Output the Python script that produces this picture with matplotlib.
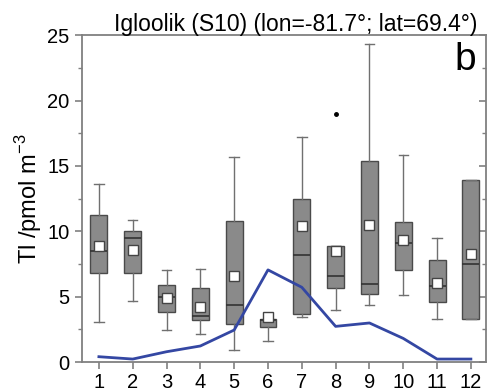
import matplotlib
matplotlib.use("Agg")
import matplotlib.pyplot as plt
from matplotlib.ticker import MultipleLocator
from matplotlib.lines import TICKLEFT

plt.rcParams['font.family'] = ['Liberation Sans', 'DejaVu Sans']

months = [1, 2, 3, 4, 5, 6, 7, 8, 9, 10, 11, 12]
# box statistics per month (pmol m-3)
q1 = [6.85, 6.85, 3.83, 3.25, 2.94, 2.70, 3.71, 5.65, 5.19, 7.06, 4.63, 3.27]
med = [8.50, 9.48, 5.00, 3.53, 4.37, 3.20, 8.18, 6.60, 5.96, 9.10, 5.78, 7.49]
q3 = [11.25, 10.05, 5.93, 5.65, 10.76, 3.30, 12.50, 8.88, 15.36, 10.68, 7.77, 13.96]
whislo = [3.07, 4.68, 2.43, 2.12, 0.92, 1.63, 3.43, 4.00, 4.35, 5.11, 3.27, 3.27]
whishi = [13.60, 10.86, 7.03, 7.08, 15.69, 3.30, 17.18, 8.88, 24.36, 15.82, 9.46, 13.96]
means = [8.85, 8.54, 4.88, 4.19, 6.62, 3.48, 10.38, 8.46, 10.45, 9.36, 6.08, 8.26]
outliers = {8: [18.94]}
# monthly curve
line_vals = [0.41, 0.23, 0.79, 1.23, 2.45, 7.05, 5.72, 2.73, 2.99, 1.81, 0.23, 0.23]
xtick_labels = [str(m) for m in months]

title = "Igloolik (S10) (lon=-81.7°; lat=69.4°)"
ylabel = r"Tl /pmol m$^{\mathregular{-3}}$"

fig = plt.figure(figsize=(4.91, 3.91), dpi=100)
ax = fig.add_axes([0.167, 0.074, 0.823, 0.836])

stats = []
for i, m in enumerate(months):
    stats.append(dict(q1=q1[i], med=med[i], q3=q3[i], whislo=whislo[i],
                      whishi=whishi[i], mean=means[i],
                      fliers=outliers.get(m, [])))

ax.bxp(stats, positions=months, widths=0.5, capwidths=0.28,
       showmeans=True, showfliers=True, patch_artist=True,
       boxprops=dict(facecolor='#8a8a8a', edgecolor='#4a4a4a', linewidth=1.0),
       medianprops=dict(color='#333333', linewidth=1.2),
       whiskerprops=dict(color='#707070', linewidth=1.0),
       capprops=dict(color='#707070', linewidth=1.0),
       meanprops=dict(marker='s', markerfacecolor='white',
                      markeredgecolor='#444444', markersize=7,
                      markeredgewidth=1.0),
       flierprops=dict(marker='o', markerfacecolor='black',
                       markeredgecolor='black', markersize=2.5))

ax.plot(months, line_vals, color='#3447a3', linewidth=2.0, zorder=5)

ax.set_xlim(0.5, 12.45)
ax.set_ylim(0, 25)
ax.set_xticks(months)
ax.set_xticklabels(xtick_labels)
ax.yaxis.set_major_locator(MultipleLocator(5))
ax.yaxis.set_minor_locator(MultipleLocator(2.5))

for s in ax.spines.values():
    s.set_color('#808080')
    s.set_linewidth(1.3)

ax.tick_params(axis='both', which='major', labelsize=14.5, color='#808080',
               width=1.2, length=5, direction='out')
ax.tick_params(axis='x', which='major', pad=3)
ax.tick_params(axis='y', which='major', pad=4)
ax.tick_params(axis='y', which='minor', color='#808080', width=1.0,
               length=3, direction='out')
ax.tick_params(axis='y', which='both', right=True, left=True)
# right-side ticks point inward
for t in ax.yaxis.get_major_ticks() + ax.yaxis.get_minor_ticks():
    t.tick2line.set_marker(TICKLEFT)

ax.set_ylabel(ylabel, fontsize=17, labelpad=2)
ax.text(0.53, 1.012, title, transform=ax.transAxes, ha='center',
        va='baseline', fontsize=16.5)
ax.text(0.975, 0.924, "b", transform=ax.transAxes, ha='right', va='center',
        fontsize=28)

fig.savefig("out.png", dpi=100)
